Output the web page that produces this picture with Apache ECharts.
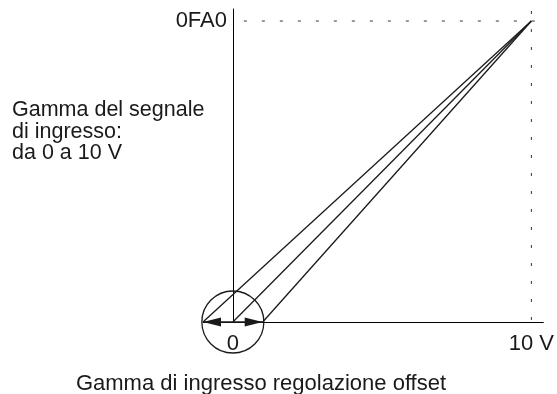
<!DOCTYPE html>
<html>
<head>
<meta charset="utf-8">
<script src="https://cdn.jsdelivr.net/npm/echarts@6/dist/echarts.min.js"></script>
<style>
  html, body { margin: 0; padding: 0; background: #fff; }
  #chart { width: 557px; height: 394px; }
</style>
</head>
<body>
<div id="chart"></div>
<script>
// valori
const xTickValues = [0, 10]
const xTickLabels = ['0', '10 V']
const yTickValues = [4000]          // 0x0FA0
const yTickLabels = ['0FA0']
const fullScale = [10, 4000]        // punto di fondo scala
const offsetStarts = [-1, 0, 1]     // partenza delle tre rette (offset)
const arrowEnds = [-1, 1]           // punte delle frecce
const xMin = -1
const xMax = 10.4
const yMax = 4160

const FONT = 'Liberation Sans, Arial, Helvetica, sans-serif'
const INK = '#1a1a1a'

const chart = echarts.init(document.getElementById('chart'))

// rette di ingresso
const rampSeries = offsetStarts.map(s => ({
  type: 'line',
  data: [[s, 0], fullScale],
  showSymbol: false,
  clip: false,
  silent: true,
  lineStyle: { color: INK, width: 1.3 }
}))

const option = {
  animation: false,
  grid: { left: 203, right: 13, top: 9, bottom: 72 },
  xAxis: {
    type: 'value',
    min: xMin,
    max: xMax,
    splitLine: { show: false },
    axisTick: { show: false },
    axisLine: { lineStyle: { color: '#000', width: 1 } },
    axisLabel: {
      customValues: xTickValues,
      formatter: v => xTickLabels[xTickValues.indexOf(v)],
      color: INK,
      fontFamily: FONT,
      fontSize: 22,
      margin: 11
    }
  },
  yAxis: {
    type: 'value',
    min: 0,
    max: yMax,
    offset: -30,   // asse verticale sullo 0 della scala orizzontale
    splitLine: { show: false },
    axisTick: { show: false },
    axisLine: { show: true, onZero: false, lineStyle: { color: '#000', width: 1 } },
    axisLabel: {
      customValues: yTickValues,
      formatter: v => yTickLabels[yTickValues.indexOf(v)],
      color: INK,
      fontFamily: FONT,
      fontSize: 22,
      margin: 6
    }
  },
  graphic: [
    {
      type: 'text',
      style: {
        x: 12, y: 132,
        text: 'Gamma del segnale\ndi ingresso:\nda 0 a 10 V',
        font: '21.5px ' + FONT,
        lineHeight: 21.5,
        fill: INK,
        verticalAlign: 'middle'
      }
    },
    {
      type: 'text',
      style: {
        x: 261, y: 384,
        text: 'Gamma di ingresso regolazione offset',
        font: '22px ' + FONT,
        fill: INK,
        align: 'center',
        verticalAlign: 'middle'
      }
    }
  ],
  series: [
    ...rampSeries,
    // linee tratteggiate di fondo scala
    {
      type: 'line',
      data: [[0, fullScale[1]], [xMax, fullScale[1]]],
      showSymbol: false,
      clip: false,
      silent: true,
      lineStyle: { color: '#333', width: 1, type: [3, 15], dashOffset: 7 }
    },
    {
      type: 'line',
      data: [[fullScale[0], yMax], [fullScale[0], 0]],
      showSymbol: false,
      clip: false,
      silent: true,
      lineStyle: { color: '#333', width: 1, type: [3, 15], dashOffset: 16 }
    },
    // asta delle frecce
    {
      type: 'line',
      data: [[arrowEnds[0], 0], [arrowEnds[1], 0]],
      showSymbol: false,
      clip: false,
      silent: true,
      lineStyle: { color: INK, width: 1.3 }
    },
    // punte delle frecce
    {
      type: 'scatter',
      clip: false,
      silent: true,
      data: [
        { value: [arrowEnds[0], 0], symbol: 'path://M17,0 L0,4 L17,8 Z', symbolOffset: [9, 0] },
        { value: [arrowEnds[1], 0], symbol: 'path://M0,0 L17,4 L0,8 Z', symbolOffset: [-9, 0] }
      ],
      symbolSize: [18, 9],
      itemStyle: { color: INK, opacity: 1 }
    },
    // cerchio dell'offset
    {
      type: 'scatter',
      clip: false,
      silent: true,
      data: [[0, 0]],
      symbol: 'circle',
      symbolSize: 62,
      itemStyle: { color: 'rgba(0,0,0,0)', borderColor: INK, borderWidth: 1.3, opacity: 1 }
    }
  ]
}

chart.setOption(option)
</script>
</body>
</html>
